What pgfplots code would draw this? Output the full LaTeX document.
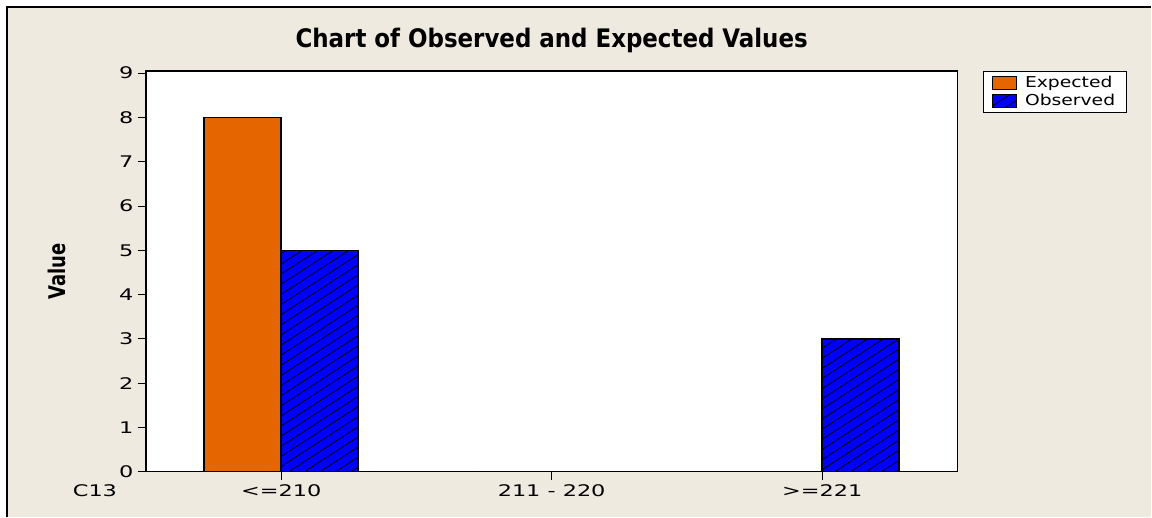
\documentclass[border=0pt]{standalone}
\usepackage{fontspec}
\setmainfont{DejaVu Sans}
\newfontfamily\tickfont[FakeStretch=1.4]{DejaVu Sans}
\newfontfamily\legfont[FakeStretch=1.25]{DejaVu Sans}
\newfontfamily\labfont[FakeStretch=0.87]{DejaVu Sans Condensed Bold}
\newfontfamily\titlefont{DejaVu Sans Condensed Bold}
\usepackage{pgfplots}
\pgfplotsset{compat=1.18}
\usetikzlibrary{patterns.meta}
\definecolor{bg}{HTML}{EEEAE0}
\definecolor{orangebar}{HTML}{E56600}
\definecolor{bluebar}{HTML}{0000FF}
\begin{document}
\begin{tikzpicture}[x=1pt,y=1pt]
\fill[white] (0,0) rectangle (1152,517);
\fill[bg] (7,0) rectangle (1152,510);
\draw[line width=1.5pt] (7,0) -- (7,510) -- (1152,510);
\path[use as bounding box] (0,0) rectangle (1152,517);
\node[font=\titlefont\fontsize{25.5}{25.5}\selectfont] at (552,477) {Chart of Observed and Expected Values};
\node[font=\tickfont\fontsize{16}{16}\selectfont, anchor=base] at (95,20) {C13};
\begin{axis}[
  at={(146pt,45pt)}, anchor=south west,
  scale only axis, width=812pt, height=401pt,
  xmin=-0.5, xmax=2.5, ymin=0, ymax=9.05,
  ybar=0pt, bar width=0.285,
  xtick={0,1,2}, xticklabels={{<=210},{211 - 220},{>=221}},
  ytick={0,1,...,9},
  xtick pos=lower, ytick pos=left,
  tick align=outside, major tick length=8pt,
  tick style={black, line width=1pt},
  axis line style={line width=1.5pt},
  axis background/.style={fill=white},
  ticklabel style={font=\tickfont\fontsize{16}{16}\selectfont},
  /pgf/number format/assume math mode=true,
  xticklabel style={yshift=-1pt},
  yticklabel style={xshift=-1pt},
  ylabel={Value},
  ylabel style={font=\labfont\fontsize{23}{23}\selectfont, at={(rel axis cs:-0.110,0.5)}, anchor=center},
  legend style={at={(rel axis cs:1.031,1)}, anchor=north west, draw=black, line width=1pt, fill=white,
    font=\legfont\fontsize{15}{16}\selectfont, row sep=1pt, inner xsep=9pt, inner ysep=3pt,
    /tikz/every odd column/.append style={column sep=6pt}},
  legend cell align=left,
  legend image code/.code={\draw[#1, line width=1pt] (0pt,-6.5pt) rectangle (24pt,6.5pt);},
]
\addplot[fill=orangebar, draw=black, line width=1.5pt] coordinates {(0,8) (1,0) (2,0)};
\addplot[fill=bluebar, draw=black, line width=1.5pt, postaction={pattern={Lines[angle=33,distance=8.5pt,line width=0.8pt]}, pattern color=black}] coordinates {(0,5) (1,0) (2,3)};
\legend{Expected,Observed}
\end{axis}
\end{tikzpicture}
\end{document}
